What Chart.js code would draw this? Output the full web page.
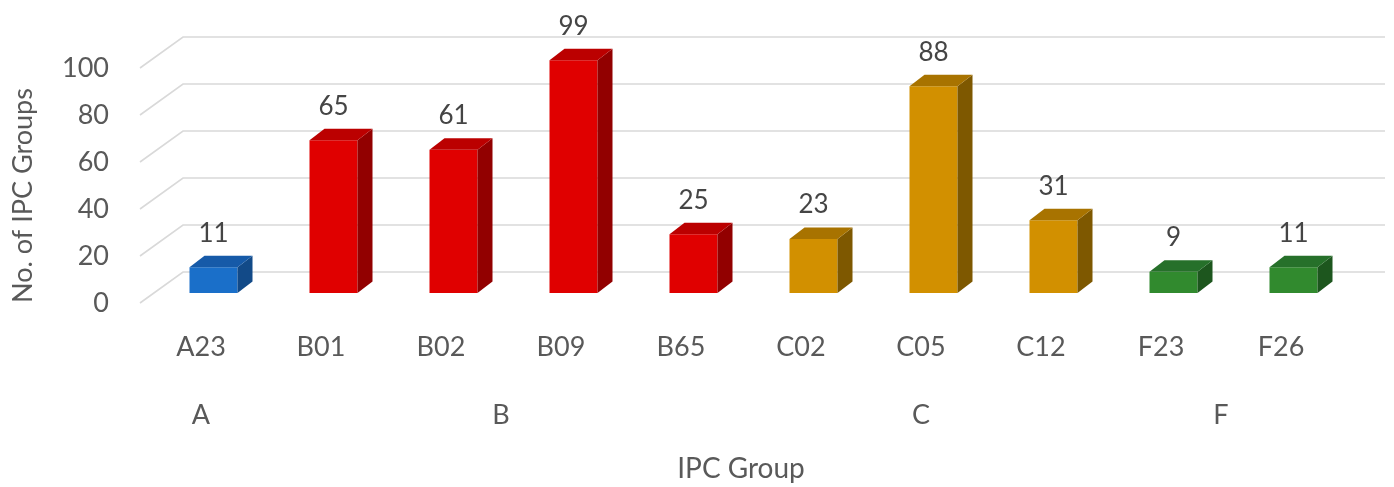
<!DOCTYPE html>
<html>
<head>
<meta charset="utf-8">
<title>IPC Groups</title>
<script src="https://cdn.jsdelivr.net/npm/chart.js@4.4.1/dist/chart.umd.min.js"></script>
<style>
  html, body { margin: 0; padding: 0; background: #ffffff; }
  #wrap { width: 1394px; height: 487px; }
</style>
</head>
<body>
<div id="wrap"><canvas id="chart" width="1394" height="487"></canvas></div>
<script>
// IPC sub-groups, the section each belongs to, and the number of groups counted
const categories = ['A23', 'B01', 'B02', 'B09', 'B65', 'C02', 'C05', 'C12', 'F23', 'F26'];
const sectionOf  = ['A', 'B', 'B', 'B', 'B', 'C', 'C', 'C', 'F', 'F'];
const counts     = [11, 65, 61, 99, 25, 23, 88, 31, 9, 11];
const sections   = ['A', 'B', 'C', 'F'];
const valueTicks = [0, 20, 40, 60, 80, 100];

// Colours per section: front face, top face, side face
const faceColors = { A: '#1a6fc9', B: '#e00000', C: '#d29000', F: '#318a2e' };
const topColors  = { A: '#165aa8', B: '#bb0000', C: '#a87300', F: '#26702a' };
const sideColors = { A: '#124a88', B: '#920000', C: '#7e5800', F: '#1d561e' };

const TEXT = '#595959';
const LABEL = '#454545';
const FONT = 'Lato';

// Oblique projection offsets for the pseudo-3D look
const WALL  = { dx: 42, dy: -31 };    // floor front edge -> back wall
const SHIFT = { dx: 12.5, dy: -10 };  // floor front edge -> bar front face
const DEPTH = { dx: 15, dy: -11.5 };  // bar front face -> bar back face

const threeD = {
  id: 'threeD',
  beforeDatasetsDraw(chart) {
    const { ctx, chartArea, scales: { y } } = chart;
    // back-wall gridlines with their slanted floor-side segments
    ctx.save();
    ctx.strokeStyle = '#d9d9d9';
    ctx.lineWidth = 1.6;
    valueTicks.forEach(v => {
      const py = y.getPixelForValue(v);
      ctx.beginPath();
      ctx.moveTo(chartArea.left - 1, py);
      ctx.lineTo(chartArea.left + WALL.dx, py + WALL.dy);
      ctx.lineTo(chartArea.right + 44, py + WALL.dy);
      ctx.stroke();
    });
    ctx.restore();
    // front faces are drawn by the bar controller, pushed back into the box
    ctx.save();
    ctx.translate(SHIFT.dx, SHIFT.dy);
  },
  afterDatasetsDraw(chart) {
    const { ctx, scales: { x, y } } = chart;
    ctx.restore();
    const meta = chart.getDatasetMeta(0);
    meta.data.forEach((bar, i) => {
      const p = bar.getProps(['x', 'y', 'base', 'width'], true);
      const l = p.x - p.width / 2 + SHIFT.dx;
      const r = p.x + p.width / 2 + SHIFT.dx;
      const t = p.y + SHIFT.dy;
      const b = p.base + SHIFT.dy;
      const s = sectionOf[i];
      // right side face
      ctx.fillStyle = sideColors[s];
      ctx.beginPath();
      ctx.moveTo(r, t);
      ctx.lineTo(r + DEPTH.dx, t + DEPTH.dy);
      ctx.lineTo(r + DEPTH.dx, b + DEPTH.dy);
      ctx.lineTo(r, b);
      ctx.closePath();
      ctx.fill();
      // top face
      ctx.fillStyle = topColors[s];
      ctx.beginPath();
      ctx.moveTo(l, t);
      ctx.lineTo(l + DEPTH.dx, t + DEPTH.dy);
      ctx.lineTo(r + DEPTH.dx, t + DEPTH.dy);
      ctx.lineTo(r, t);
      ctx.closePath();
      ctx.fill();
      // value label
      ctx.fillStyle = LABEL;
      ctx.font = '26px ' + FONT;
      ctx.textAlign = 'center';
      ctx.textBaseline = 'middle';
      ctx.fillText(String(counts[i]), (l + r) / 2, t - 34);
    });

    // section labels centred under their sub-groups
    ctx.fillStyle = TEXT;
    ctx.font = '27px ' + FONT;
    ctx.textAlign = 'center';
    ctx.textBaseline = 'middle';
    sections.forEach(sec => {
      const first = sectionOf.indexOf(sec);
      const last = sectionOf.lastIndexOf(sec);
      const cx = (x.getPixelForValue(first) + x.getPixelForValue(last)) / 2;
      ctx.fillText(sec, cx, 415);
    });

    // value axis title
    ctx.save();
    ctx.translate(23, (y.getPixelForValue(0) + y.getPixelForValue(100)) / 2 + 10);
    ctx.rotate(-Math.PI / 2);
    ctx.font = '27px ' + FONT;
    ctx.fillText('No. of IPC Groups', 0, 0);
    ctx.restore();
  }
};

new Chart(document.getElementById('chart'), {
  type: 'bar',
  data: {
    labels: categories,
    datasets: [{
      data: counts,
      backgroundColor: sectionOf.map(s => faceColors[s]),
      borderWidth: 0,
      categoryPercentage: 1,
      barPercentage: 0.4,
      clip: false
    }]
  },
  options: {
    responsive: false,
    animation: false,
    layout: { padding: { left: 0, top: 68, right: 53, bottom: 0 } },
    plugins: { legend: { display: false }, tooltip: { enabled: false } },
    scales: {
      x: {
        grid: { display: false, drawTicks: false },
        border: { display: false },
        ticks: { color: TEXT, font: { family: FONT, size: 27 }, padding: 28, maxRotation: 0, autoSkip: false },
        title: { display: true, text: 'IPC Group', color: TEXT, font: { family: FONT, size: 28 }, padding: { top: 0, bottom: 1 } },
        afterFit(scale) { scale.height = 184; }
      },
      y: {
        min: 0,
        max: 100,
        grid: { display: false, drawTicks: false },
        border: { display: false },
        ticks: { color: TEXT, font: { family: FONT, size: 27 }, padding: 32 },
        afterBuildTicks(scale) { scale.ticks = valueTicks.map(v => ({ value: v })); },
        afterFit(scale) { scale.width = 141; }
      }
    }
  },
  plugins: [threeD]
});
</script>
</body>
</html>
